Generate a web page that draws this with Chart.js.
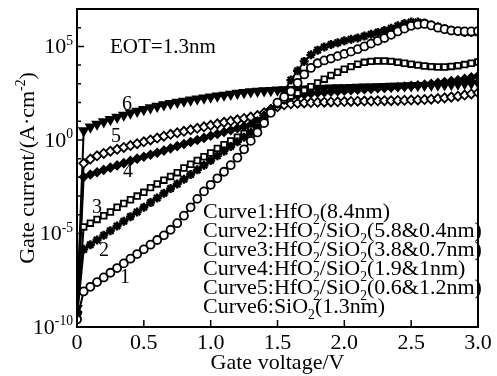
<!DOCTYPE html>
<html>
<head>
<meta charset="utf-8">
<script src="https://cdn.jsdelivr.net/npm/chart.js@4.4.1/dist/chart.umd.min.js"></script>
<style>
  html, body { margin: 0; padding: 0; background: #fff; }
  #wrap { width: 497px; height: 376px; }
</style>
</head>
<body>
<div id="wrap"><canvas id="gateChart"></canvas></div>
<script>
// gate voltage (V)
const voltage = [0, 0.05, 0.1, 0.15, 0.2, 0.25, 0.3, 0.35, 0.4, 0.45, 0.5, 0.55, 0.6, 0.65, 0.7, 0.75,
    0.8, 0.85, 0.9, 0.95, 1.0, 1.05, 1.1, 1.15, 1.2, 1.25, 1.3, 1.35, 1.4, 1.45, 1.5, 1.55, 1.6, 1.65,
    1.7, 1.75, 1.8, 1.85, 1.9, 1.95, 2.0, 2.05, 2.1, 2.15, 2.2, 2.25, 2.3, 2.35, 2.4, 2.45, 2.5, 2.55,
    2.6, 2.65, 2.7, 2.75, 2.8, 2.85, 2.9, 2.95, 3.0];

// log10 of gate current (A/cm2)
const curve1Log = [-9.6, -8.1, -7.85, -7.6, -7.35, -7.1, -6.85, -6.6, -6.35, -6.1, -5.85, -5.6, -5.35, -5.1,
    -4.8, -4.45, -4.05, -3.6, -3.15, -2.75, -2.4, -2.05, -1.7, -1.35, -0.95, -0.5, -0.05, 0.4, 0.9, 1.45,
    2.0, 2.3, 2.6, 3.05, 3.5, 3.85, 4.1, 4.25, 4.35, 4.48, 4.6, 4.72, 4.85, 5.0, 5.15, 5.3, 5.45, 5.62,
    5.8, 5.95, 6.1, 6.17, 6.2, 6.12, 6.0, 5.92, 5.85, 5.82, 5.8, 5.8, 5.82];
const curve2Log = [-9.5, -5.85, -5.6, -5.35, -5.1, -4.85, -4.6, -4.35, -4.1, -3.85, -3.6, -3.35, -3.1, -2.85,
    -2.6, -2.35, -2.1, -1.85, -1.6, -1.35, -1.1, -0.85, -0.6, -0.35, -0.1, 0.15, 0.4, 0.7, 1.05, 1.5,
    2.0, 2.6, 3.2, 3.7, 4.2, 4.55, 4.8, 4.97, 5.1, 5.2, 5.3, 5.38, 5.45, 5.55, 5.65, 5.75, 5.85, 5.97,
    6.1, 6.22, 6.3, 6.3, 6.25, 6.15, 6.05, 5.95, 5.85, 5.8, 5.75, 5.75, 5.75];
const curve3Log = [-9.4, -4.65, -4.45, -4.25, -4.05, -3.85, -3.6, -3.4, -3.2, -3.0, -2.8, -2.55, -2.35, -2.15,
    -1.95, -1.75, -1.5, -1.3, -1.1, -0.9, -0.7, -0.45, -0.25, -0.05, 0.15, 0.35, 0.55, 0.8, 1.1, 1.5,
    1.9, 2.15, 2.35, 2.5, 2.65, 2.85, 3.05, 3.25, 3.45, 3.62, 3.78, 3.92, 4.05, 4.15, 4.2, 4.22, 4.22, 4.2,
    4.15, 4.1, 4.05, 4.0, 3.95, 3.92, 3.9, 3.9, 3.93, 3.97, 4.03, 4.1, 4.17];
const curve4Log = [-9.3, -1.98, -1.85, -1.73, -1.6, -1.48, -1.36, -1.24, -1.12, -1.0, -0.9, -0.79, -0.68, -0.57,
    -0.45, -0.33, -0.22, -0.11, 0.0, 0.11, 0.22, 0.32, 0.42, 0.52, 0.62, 0.72, 0.82, 1.0, 1.3, 1.65,
    1.95, 2.15, 2.3, 2.38, 2.43, 2.48, 2.52, 2.55, 2.58, 2.6, 2.63, 2.66, 2.68, 2.71, 2.73, 2.76, 2.78, 2.8,
    2.83, 2.86, 2.89, 2.92, 2.96, 3.0, 3.05, 3.1, 3.15, 3.2, 3.27, 3.35, 3.42];
const curve5Log = [-9.2, -1.25, -1.02, -0.85, -0.72, -0.6, -0.5, -0.4, -0.3, -0.2, -0.1, 0.0, 0.1, 0.2,
    0.3, 0.38, 0.46, 0.54, 0.62, 0.7, 0.78, 0.86, 0.94, 1.01, 1.08, 1.15, 1.22, 1.3, 1.45, 1.62,
    1.78, 1.88, 1.93, 1.96, 1.98, 2.0, 2.01, 2.02, 2.03, 2.04, 2.05, 2.06, 2.07, 2.08, 2.08, 2.09, 2.1, 2.1,
    2.11, 2.12, 2.13, 2.14, 2.16, 2.18, 2.21, 2.25, 2.29, 2.34, 2.4, 2.46, 2.52];
const curve6Log = [-9.0, 0.5, 0.7, 0.85, 0.98, 1.1, 1.22, 1.33, 1.44, 1.54, 1.63, 1.72, 1.8, 1.88,
    1.95, 2.02, 2.08, 2.14, 2.2, 2.25, 2.3, 2.35, 2.4, 2.45, 2.5, 2.54, 2.58, 2.61, 2.63, 2.65,
    2.67, 2.69, 2.7, 2.72, 2.73, 2.74, 2.75, 2.77, 2.78, 2.79, 2.8, 2.81, 2.82, 2.83, 2.84, 2.85, 2.86, 2.87,
    2.88, 2.89, 2.9, 2.91, 2.92, 2.93, 2.94, 2.95, 2.97, 2.99, 3.01, 3.03, 3.05];

const xTicks = [0, 0.5, 1.0, 1.5, 2.0, 2.5, 3.0];
const yTickExps = [-10, -9, -8, -7, -6, -5, -4, -3, -2, -1, 0, 1, 2, 3, 4, 5, 6, 7];
const yLabelExps = [-10, -5, 0, 5];

const curveNames = [
    [['Curve1:HfO'], ['2', 'sub'], ['(8.4nm)']],
    [['Curve2:HfO'], ['2', 'sub'], ['/SiO'], ['2', 'sub'], ['(5.8&0.4nm)']],
    [['Curve3:HfO'], ['2', 'sub'], ['/SiO'], ['2', 'sub'], ['(3.8&0.7nm)']],
    [['Curve4:HfO'], ['2', 'sub'], ['/SiO'], ['2', 'sub'], ['(1.9&1nm)']],
    [['Curve5:HfO'], ['2', 'sub'], ['/SiO'], ['2', 'sub'], ['(0.6&1.2nm)']],
    [['Curve6:SiO'], ['2', 'sub'], ['(1.3nm)']]
];

const SERIF = "'Liberation Serif', 'Times New Roman', serif";

function toPoints(logs) {
    return voltage.map((v, i) => ({x: v, y: Math.pow(10, logs[i])}));
}

// draws text made of [text, 'sub'|'sup'] parts
function richText(ctx, parts, x, y, size, align) {
    let w = 0;
    parts.forEach(p => {
        ctx.font = (p[1] ? size * 0.62 : size) + 'px ' + SERIF;
        w += ctx.measureText(p[0]).width;
    });
    let cx = align === 'right' ? x - w : (align === 'center' ? x - w / 2 : x);
    parts.forEach(p => {
        const s = p[1] ? size * 0.62 : size;
        ctx.font = s + 'px ' + SERIF;
        let dy = 0;
        if (p[1] === 'sub') dy = size * 0.25;
        if (p[1] === 'sup') dy = -size * 0.4;
        ctx.fillText(p[0], cx, y + dy);
        cx += ctx.measureText(p[0]).width;
    });
}

const paper = {
    id: 'paper',
    beforeDraw: (chart) => {
        const ctx = chart.ctx;
        ctx.save();
        ctx.fillStyle = '#fff';
        ctx.fillRect(0, 0, chart.width, chart.height);
        ctx.restore();
    },
    afterDraw: (chart) => {
        const ctx = chart.ctx;
        const a = chart.chartArea;
        const xs = chart.scales.x;
        const ys = chart.scales.y;
        ctx.save();
        ctx.strokeStyle = '#000';
        ctx.fillStyle = '#000';
        ctx.lineWidth = 2;
        ctx.strokeRect(a.left, a.top, a.right - a.left, a.bottom - a.top);

        // inward ticks
        ctx.lineWidth = 1.5;
        ctx.beginPath();
        xTicks.forEach(v => {
            const px = xs.getPixelForValue(v);
            ctx.moveTo(px, a.bottom);
            ctx.lineTo(px, a.bottom - 7);
        });
        yTickExps.forEach(e => {
            const py = ys.getPixelForValue(Math.pow(10, e));
            const len = yLabelExps.includes(e) ? 7 : 4;
            ctx.moveTo(a.left, py);
            ctx.lineTo(a.left + len, py);
        });
        ctx.stroke();

        ctx.textBaseline = 'alphabetic';
        // y tick labels
        yLabelExps.forEach(e => {
            const py = ys.getPixelForValue(Math.pow(10, e));
            richText(ctx, [['10'], [String(e), 'sup']], a.left - 4, py + 7, 22, 'right');
        });

        // y axis title
        ctx.save();
        ctx.translate(34, 168);
        ctx.rotate(-Math.PI / 2);
        richText(ctx, [['Gate current/(A\u00b7cm'], ['-2', 'sup'], [')']], 0, 0, 22, 'center');
        ctx.restore();

        richText(ctx, [['EOT=1.3nm']], 110, 53, 21, 'left');

        // curve numbers
        ctx.textAlign = 'center';
        ctx.font = '20px ' + SERIF;
        [['1', 125, 283], ['2', 104, 256], ['3', 97, 213], ['4', 128, 177], ['5', 116, 142], ['6', 127, 110]]
            .forEach(l => ctx.fillText(l[0], l[1], l[2]));
        ctx.textAlign = 'left';

        curveNames.forEach((parts, i) => {
            richText(ctx, parts, 203, 218 + i * 19, 22, 'left');
        });
        ctx.restore();
    }
};

function series(label, logs, style, extra) {
    return Object.assign({
        label: label,
        data: toPoints(logs),
        borderColor: '#000',
        borderWidth: 2,
        pointStyle: style,
        pointRadius: 4,
        pointBorderColor: '#000',
        pointBorderWidth: 1.8,
        pointBackgroundColor: '#fff',
        tension: 0
    }, extra || {});
}

const sets = [
    series('Curve1', curve1Log, 'circle', {}),
    series('Curve2', curve2Log, 'star', {pointRadius: 4.5, pointBorderWidth: 2.4}),
    series('Curve3', curve3Log, 'rect', {}),
    series('Curve4', curve4Log, 'rectRot', {pointBackgroundColor: '#000'}),
    series('Curve5', curve5Log, 'rectRot', {pointRadius: 4.5}),
    series('Curve6', curve6Log, 'triangle', {pointBackgroundColor: '#000', pointRadius: 5, pointRotation: 180})
];

new Chart(document.getElementById('gateChart'), {
    type: 'line',
    data: {datasets: sets},
    options: {
        responsive: true,
        maintainAspectRatio: false,
        animation: false,
        layout: {padding: {top: 9, right: 19, left: 0, bottom: 0}},
        plugins: {legend: {display: false}, tooltip: {enabled: false}},
        scales: {
            x: {
                type: 'linear',
                min: 0,
                max: 3,
                afterBuildTicks: (s) => { s.ticks = xTicks.map(v => ({value: v})); },
                afterFit: (s) => { s.height = 49; },
                grid: {display: false, drawTicks: false},
                border: {display: false},
                ticks: {
                    padding: 3,
                    color: '#000',
                    font: {family: SERIF, size: 22},
                    maxRotation: 0,
                    callback: (v) => v === 0 ? '0' : v.toFixed(1)
                },
                title: {
                    display: true,
                    text: 'Gate voltage/V',
                    color: '#000',
                    font: {family: SERIF, size: 22},
                    padding: {top: 0, bottom: 0}
                }
            },
            y: {
                type: 'logarithmic',
                min: 1e-10,
                max: 1e7,
                afterBuildTicks: (s) => { s.ticks = yTickExps.map(e => ({value: Math.pow(10, e)})); },
                afterFit: (s) => { s.width = 77; },
                grid: {display: false, drawTicks: false},
                border: {display: false},
                ticks: {display: false}
            }
        }
    },
    plugins: [paper]
});
</script>
</body>
</html>
